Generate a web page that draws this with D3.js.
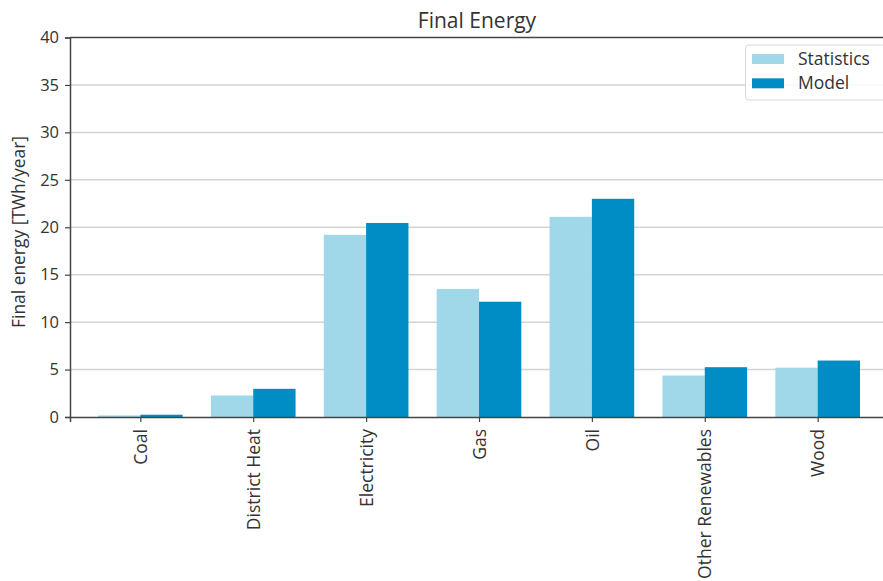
<!DOCTYPE html>
<html>
<head>
<meta charset="utf-8">
<script src="https://cdn.jsdelivr.net/npm/d3@7"></script>
<style>
  html, body { margin: 0; padding: 0; background: #fff; }
  svg { display: block; font-family: "Open Sans", "Noto Sans", sans-serif; }
</style>
</head>
<body>
<svg id="chart" width="883" height="581"></svg>
<script>
const categories = ["Coal", "District Heat", "Electricity", "Gas", "Oil", "Other Renewables", "Wood"];
const statistics = [0.17, 2.27, 19.2, 13.5, 21.1, 4.37, 5.2];
const model = [0.24, 2.97, 20.45, 12.15, 23.0, 5.25, 5.95];
const seriesNames = ["Statistics", "Model"];
const yTicks = [0, 5, 10, 15, 20, 25, 30, 35, 40];

const colors = { "Statistics": "#a0d8ea", "Model": "#008cc4" };
const svg = d3.select("#chart");
const mLeft = 70, mRight = 888, mTop = 37.5, mBottom = 417;

const x = d3.scaleLinear().domain([-0.623, categories.length - 1 + 0.623]).range([mLeft, mRight]);
const y = d3.scaleLinear().domain([0, 40]).range([mBottom, mTop]);
const barW = 0.375;

// grid
svg.append("g").selectAll("line").data(yTicks.slice(1, -1)).join("line")
  .attr("x1", mLeft).attr("x2", mRight)
  .attr("y1", d => y(d)).attr("y2", d => y(d))
  .attr("stroke", "#d3d3d3").attr("stroke-width", 1.5);

// bars
const series = [statistics, model];
series.forEach((vals, si) => {
  svg.append("g").selectAll("rect").data(vals).join("rect")
    .attr("x", (d, i) => x(i - barW + si * barW))
    .attr("width", x(barW) - x(0))
    .attr("y", d => y(d))
    .attr("height", d => y(0) - y(d))
    .attr("fill", colors[seriesNames[si]]);
});

// axes
const yAxis = d3.axisLeft(y).tickValues(yTicks).tickSize(5).tickPadding(6).tickFormat(d3.format("d"));
const gy = svg.append("g").attr("transform", `translate(${mLeft},0)`).call(yAxis);
gy.select(".domain").attr("stroke", "#444").attr("stroke-width", 1.5);
gy.selectAll(".tick line").attr("stroke", "#444").attr("stroke-width", 1.2);
gy.selectAll(".tick text").attr("font-size", 16.5).attr("fill", "#333").attr("font-family", "Open Sans");

const xAxis = d3.axisBottom(x).tickValues(d3.range(categories.length)).tickSize(5).tickFormat(i => categories[i]);
const gx = svg.append("g").attr("transform", `translate(0,${mBottom})`).call(xAxis);
gx.select(".domain").attr("stroke", "#444").attr("stroke-width", 1.5);
gx.selectAll(".tick line").attr("stroke", "#444").attr("stroke-width", 1.2);
gx.selectAll(".tick text")
  .attr("font-size", 17.5).attr("fill", "#333").attr("font-family", "Open Sans")
  .attr("transform", "rotate(-90)")
  .attr("text-anchor", "end")
  .attr("x", -12).attr("y", 0).attr("dy", "0.35em");

// top spine
svg.append("line").attr("x1", mLeft).attr("x2", mRight).attr("y1", mTop).attr("y2", mTop)
  .attr("stroke", "#444").attr("stroke-width", 1.5);

// title
svg.append("text").attr("x", 477).attr("y", 28).attr("text-anchor", "middle")
  .attr("font-size", 21).attr("fill", "#333").text("Final Energy");

// y label
svg.append("text").attr("transform", `translate(25,232) rotate(-90)`)
  .attr("text-anchor", "middle").attr("font-size", 17.4).attr("fill", "#333")
  .text("Final energy [TWh/year]");

// legend
const lg = svg.append("g");
lg.append("rect").attr("x", 745.5).attr("y", 45).attr("width", 140).attr("height", 55)
  .attr("rx", 3).attr("fill", "#fff").attr("fill-opacity", 0.85).attr("stroke", "#d8d8d8");
seriesNames.forEach((n, i) => {
  lg.append("rect").attr("x", 752).attr("y", 54 + i * 24.3).attr("width", 32).attr("height", 10)
    .attr("fill", colors[n]);
  lg.append("text").attr("x", 798).attr("y", 59 + i * 24.3).attr("dy", "0.35em")
    .attr("font-size", 17.5).attr("fill", "#333").text(n);
});
</script>
</body>
</html>
